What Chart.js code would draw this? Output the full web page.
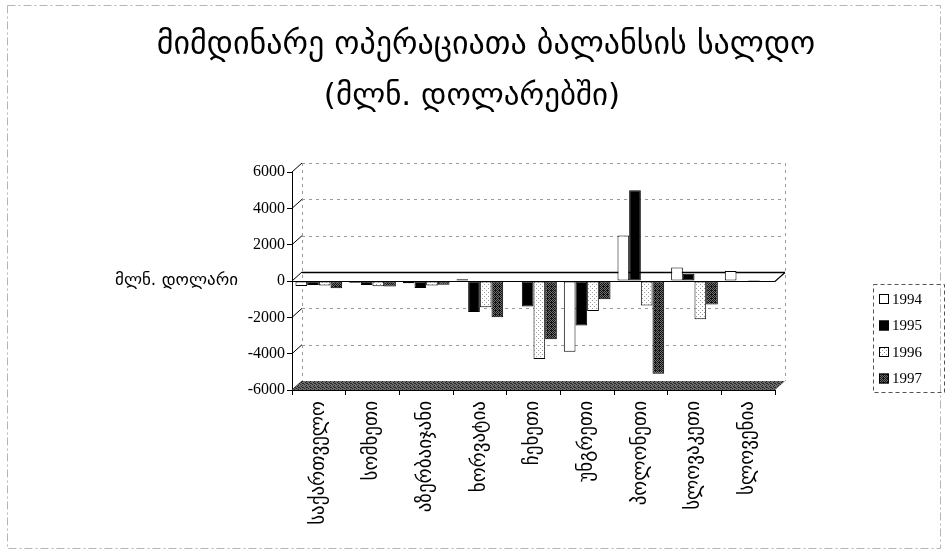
<!DOCTYPE html>
<html>
<head>
<meta charset="utf-8">
<script src="https://cdn.jsdelivr.net/npm/chart.js@4.4.1/dist/chart.umd.min.js"></script>
<style>
html,body{margin:0;padding:0;background:#fff;}
#wrap{width:945px;height:555px;position:relative;}
</style>
</head>
<body>
<div id="wrap"><canvas id="c" width="945" height="555"></canvas></div>
<script>
// ---- data ----
const titleLines = ['მიმდინარე ოპერაციათა ბალანსის სალდო', '(მლნ. დოლარებში)'];
const yAxisTitle = 'მლნ. დოლარი';
const categories = ['საქართველო','სომხეთი','აზერბაიჯანი','ხორვატია','ჩეხეთი','უნგრეთი','პოლონეთი','სლოვაკეთი','სლოვენია'];
const years = ['1994','1995','1996','1997'];
const v1994 = [-280, -100, -120, 100, -50, -3900, 2500, 750, 550];
const v1995 = [-220, -220, -380, -1700, -1400, -2450, 5000, 400, -20];
const v1996 = [-250, -290, -250, -1450, -4300, -1650, -1350, -2100, 50];
const v1997 = [-400, -300, -200, -2000, -3200, -1000, -5100, -1300, -60];
const yTicks = [-6000, -4000, -2000, 0, 2000, 4000, 6000];

// ---- patterns ----
function makePattern(size, bg, fg, pts) {
  const c = document.createElement('canvas');
  c.width = size; c.height = size;
  const x = c.getContext('2d');
  x.fillStyle = bg; x.fillRect(0, 0, size, size);
  x.fillStyle = fg;
  pts.forEach(p => x.fillRect(p[0], p[1], 1, 1));
  return x.createPattern(c, 'repeat');
}
const pat1996 = makePattern(4, '#ffffff', '#9a9a9a', [[0,0],[2,2]]);
const pat1997 = makePattern(4, '#6e6e6e', '#111111', [[0,0],[1,1],[2,0],[3,1],[0,2],[2,2],[1,3],[3,3],[3,2]]);
const patFloor = makePattern(4, '#6a6a6a', '#262626', [[0,0],[1,2],[2,1],[3,3],[2,3]]);
const fills = ['#ffffff', '#000000', pat1996, pat1997];

const DX = 10, DY = 9;

const decor = {
  id: 'decor',
  beforeDatasetsDraw(chart) {
    const {ctx, chartArea: a, scales: {y}} = chart;
    ctx.save();
    ctx.strokeStyle = '#9a9a9a';
    ctx.lineWidth = 1;
    ctx.setLineDash([3, 4]);
    yTicks.forEach(v => {
      if (v === 0 || v === -6000) return;
      const py = Math.round(y.getPixelForValue(v) - DY) + 0.5;
      ctx.beginPath(); ctx.moveTo(a.left + DX, py); ctx.lineTo(a.right + DX, py); ctx.stroke();
    });
    ctx.beginPath();
    ctx.moveTo(a.left + DX + 0.5, a.top - DY); ctx.lineTo(a.left + DX + 0.5, a.bottom - DY);
    ctx.moveTo(a.right + DX + 0.5, a.top - DY); ctx.lineTo(a.right + DX + 0.5, a.bottom - DY);
    ctx.stroke();
    ctx.setLineDash([]);
    ctx.strokeStyle = '#000';
    yTicks.forEach(v => {
      const py = y.getPixelForValue(v);
      ctx.beginPath(); ctx.moveTo(a.left, py); ctx.lineTo(a.left + DX, py - DY); ctx.stroke();
    });
    const z = Math.round(y.getPixelForValue(0) - DY) + 0.5;
    ctx.lineWidth = 1.5;
    ctx.beginPath(); ctx.moveTo(a.left + DX, z); ctx.lineTo(a.right + DX, z); ctx.stroke();
    const fb = y.getPixelForValue(-6000);
    ctx.fillStyle = patFloor;
    ctx.beginPath();
    ctx.moveTo(a.left, fb); ctx.lineTo(a.right, fb);
    ctx.lineTo(a.right + DX, fb - DY); ctx.lineTo(a.left + DX, fb - DY);
    ctx.closePath(); ctx.fill();
    ctx.restore();
  },
  afterDatasetsDraw(chart) {
    const {ctx, chartArea: a, scales: {y}} = chart;
    ctx.save();
    const z = Math.round(y.getPixelForValue(0)) + 0.5;
    ctx.strokeStyle = '#000'; ctx.lineWidth = 1.2;
    ctx.beginPath(); ctx.moveTo(a.left, z); ctx.lineTo(a.right, z);
    ctx.lineTo(a.right + DX, z - DY); ctx.stroke();
    ctx.restore();
  },
  afterDraw(chart) {
    const {ctx, scales: {y}} = chart;
    ctx.save();
    ctx.strokeStyle = '#b5b5b5'; ctx.lineWidth = 1; ctx.setLineDash([8, 3, 2, 3]);
    ctx.strokeRect(7.5, 5.5, 933, 543);
    ctx.setLineDash([]);
    ctx.fillStyle = '#000';
    ctx.textAlign = 'center'; ctx.textBaseline = 'middle';
    ctx.font = '32px "DejaVu Sans"';
    ctx.fillText(titleLines[0], 486, 46);
    ctx.font = '31px "DejaVu Sans"';
    ctx.fillText(titleLines[1], 472, 97);
    ctx.font = '17px "DejaVu Sans"';
    ctx.textAlign = 'right';
    ctx.fillText(yAxisTitle, 238, y.getPixelForValue(0));
    const lx = 873, ly = 284, lw = 71, lh = 108;
    ctx.strokeStyle = '#555'; ctx.setLineDash([4, 3]);
    ctx.strokeRect(lx + 0.5, ly + 0.5, lw, lh);
    ctx.setLineDash([]);
    ctx.font = '15px "Liberation Serif"';
    ctx.textAlign = 'left';
    years.forEach((yr, i) => {
      const cy = ly + 15 + i * 26.5;
      ctx.fillStyle = fills[i];
      ctx.fillRect(lx + 6, cy - 5, 10, 10);
      ctx.strokeStyle = '#000'; ctx.lineWidth = 1;
      ctx.strokeRect(lx + 6.5, cy - 4.5, 9, 9);
      ctx.fillStyle = '#000';
      ctx.fillText(yr, lx + 19, cy + 1);
    });
    ctx.restore();
  }
};

const series = [v1994, v1995, v1996, v1997];
new Chart(document.getElementById('c'), {
  type: 'bar',
  data: {
    labels: categories,
    datasets: years.map((yr, i) => ({
      label: yr,
      data: series[i],
      backgroundColor: fills[i],
      borderColor: '#000',
      borderWidth: 1,
      borderSkipped: false,
      categoryPercentage: 0.87,
      barPercentage: 1.0
    }))
  },
  options: {
    responsive: false,
    devicePixelRatio: 1,
    animation: false,
    layout: {padding: {left: 232, right: 170, top: 172, bottom: 5}},
    plugins: {legend: {display: false}, title: {display: false}, tooltip: {enabled: false}},
    scales: {
      x: {
        afterFit(s) { s.height = 160; },
        grid: {drawOnChartArea: false, tickLength: 5, color: '#000', offset: true},
        border: {display: true, color: '#000'},
        ticks: {minRotation: 90, maxRotation: 90, autoSkip: false, color: '#000',
                font: {family: 'DejaVu Sans', size: 19}, padding: 6}
      },
      y: {
        min: -6000, max: 6000,
        afterFit(s) { s.width = 60; },
        afterBuildTicks(s) { s.ticks = yTicks.map(v => ({value: v})); },
        grid: {drawOnChartArea: false, tickLength: 5, color: '#000'},
        border: {display: true, color: '#000'},
        ticks: {color: '#000', font: {family: 'Liberation Serif', size: 16}, padding: 2,
                callback: v => String(v)}
      }
    }
  },
  plugins: [decor]
});
</script>
</body>
</html>
